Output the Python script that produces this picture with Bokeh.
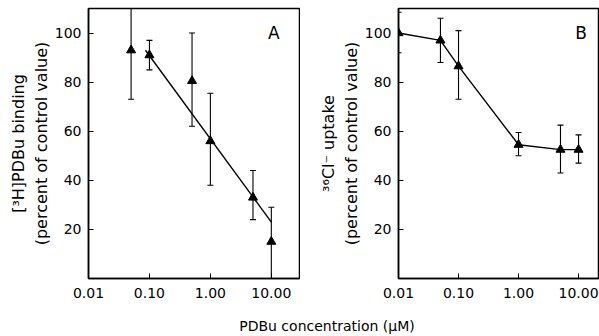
from bokeh.plotting import figure
from bokeh.layouts import column, row
from bokeh.models import ColumnDataSource, Whisker, TeeHead, Label, FixedTicker
from bokeh.embed import file_html
from bokeh.resources import INLINE

# ---- data ----
x_ticks = [0.01, 0.1, 1, 10]
x_tick_labels = ["0.01", "0.10", "1.00", "10.00"]
y_ticks = [20, 40, 60, 80, 100]

a_conc = [0.05, 0.1, 0.5, 1, 5, 10]
a_val = [93, 91, 80.5, 56, 33, 15]
a_upper = [112, 97, 100, 75.5, 44, 29]
a_lower = [73, 85, 62, 38, 24, 0]
a_fit_x = [0.086, 10]
a_fit_y = [93, 23]

b_conc = [0.01, 0.05, 0.1, 1, 5, 10]
b_val = [100, 97, 86.5, 54.5, 52.5, 52.5]
b_upper = [108.5, 106, 101, 59.5, 62.5, 58.5]
b_lower = [92, 88, 73, 50, 43, 47]

FONT = "DejaVu Sans"


def make_panel(width, left_border, xmax, conc, val, upper, lower, line_x, line_y, letter,
               ylabel):
    p = figure(width=width, height=310, x_axis_type="log", x_range=(0.01, xmax),
               y_range=(0, 110), output_backend="svg", toolbar_location=None,
               min_border_left=left_border, min_border_right=1,
               min_border_top=8, min_border_bottom=32)
    p.grid.visible = False
    p.outline_line_color = "black"
    p.outline_line_width = 1.5
    p.background_fill_color = "white"
    p.border_fill_color = "white"
    for ax in (p.xaxis[0], p.yaxis[0]):
        ax.axis_line_color = "black"
        ax.axis_line_width = 1.5
        ax.major_tick_in = 5
        ax.major_tick_out = 0
        ax.minor_tick_line_color = None
        ax.major_label_text_font = FONT
        ax.major_label_text_font_size = "14px"
        ax.major_label_text_color = "black"
        ax.major_tick_line_color = "black"
    p.xaxis.ticker = FixedTicker(ticks=x_ticks)
    p.xaxis.major_label_overrides = {t: l for t, l in zip(x_ticks, x_tick_labels)}
    p.xaxis.major_label_standoff = 9
    p.yaxis.ticker = FixedTicker(ticks=y_ticks)
    p.yaxis.major_label_standoff = 7
    p.yaxis.axis_label = ylabel
    p.yaxis.axis_label_text_font = FONT
    p.yaxis.axis_label_text_font_size = "16px"
    p.yaxis.axis_label_text_font_style = "normal"
    p.yaxis.axis_label_text_color = "black"
    p.yaxis.axis_label_standoff = 1
    p.yaxis.axis_label_text_line_height = 1.2

    src = ColumnDataSource(dict(x=conc, y=val, upper=upper, lower=lower))
    w = Whisker(base="x", upper="upper", lower="lower", source=src, line_color="black",
                line_width=1.1,
                upper_head=TeeHead(size=6, line_color="black", line_width=1.1),
                lower_head=TeeHead(size=6, line_color="black", line_width=1.1))
    p.add_layout(w)
    p.line(line_x, line_y, line_color="black", line_width=1.4)
    p.scatter("x", "y", source=src, marker="triangle", size=9, color="black")

    p.add_layout(Label(x=11, y=100, text=letter, text_font=FONT, text_font_size="17px",
                       text_align="center", text_baseline="middle", text_color="black"))
    return p


pA = make_panel(300, 88, 29, a_conc, a_val, a_upper, a_lower, a_fit_x, a_fit_y, "A",
                "[³H]PDBu binding\n(percent of control value)")
pB = make_panel(299, 98, 21.5, b_conc, b_val, b_upper, b_lower, b_conc, b_val, "B",
                "³⁶Cl⁻ uptake\n(percent of control value)")

pL = figure(width=599, height=26, x_range=(0, 1), y_range=(0, 1), output_backend="svg",
            toolbar_location=None, x_axis_location=None, y_axis_location=None,
            min_border=0)
pL.grid.visible = False
pL.outline_line_color = None
pL.add_layout(Label(x=0.545, y=0.42, text="PDBu concentration (μM)", text_font=FONT,
                    text_font_size="14px", text_align="center", text_baseline="middle",
                    text_color="black"))

layout = column(row(pA, pB), pL)
open("out.html", "w").write(file_html(layout, INLINE))
